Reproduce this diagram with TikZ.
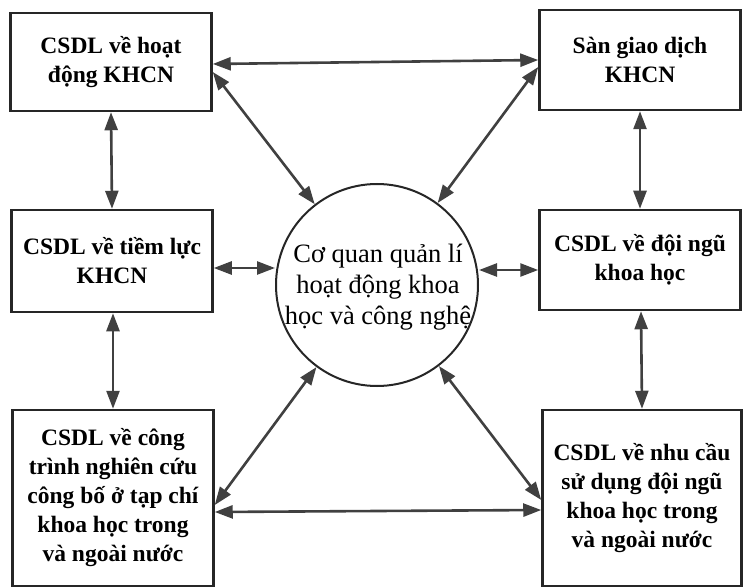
\documentclass[tikz,border=0pt]{standalone}
\usepackage{fontspec}
\setmainfont{Liberation Serif}
\usetikzlibrary{arrows.meta,shapes.geometric}
\begin{document}
\begin{tikzpicture}[x=1pt,y=-1pt,
 box/.style={draw=black!85, line width=2.5pt, align=center, font=\bfseries\fontsize{23.5}{29}\selectfont, inner sep=0pt, minimum width=201pt},
 conn/.style={draw=black!75, line width=2.6pt, {Triangle[length=18pt,width=13pt]}-{Triangle[length=18pt,width=13pt]}}]
\useasboundingbox (0,0) rectangle (747,588);
\node[box, minimum height=98pt] (tl) at (111,62) {CSDL về hoạt\\động KHCN};
\node[box, minimum height=100pt] (tr) at (640,60) {Sàn giao dịch\\KHCN};
\node[box, minimum height=102pt] (ml) at (112,261) {CSDL về tiềm lực\\KHCN};
\node[box, minimum height=100pt] (mr) at (640,260) {CSDL về đội ngũ\\khoa học};
\node[box, minimum height=176pt] (bl) at (113,498) {CSDL về công\\trình nghiên cứu\\công bố ở tạp chí\\khoa học trong\\và ngoài nước};
\node[box, minimum height=176pt, minimum width=199pt] (br) at (642,498) {CSDL về nhu cầu\\sử dụng đội ngũ\\khoa học trong\\và ngoài nước};
\node[draw=black!85, line width=2pt, circle, minimum size=202pt, inner sep=0pt] (c) at (377,285) {};
\node[align=center, font=\fontsize{26.5}{31}\selectfont, inner sep=0pt] (ct) at (378,287) {Cơ quan quản lí\\hoạt động khoa\\học và công nghệ};
\coordinate (mlE) at ([yshift=-7pt]ml.east);
\coordinate (mrW) at ([yshift=-10pt]mr.west);
\coordinate (cW) at (mlE -| c.west);
\coordinate (cE) at (mrW -| c.east);
% top row
\draw[conn] ([yshift=-2pt]tl.east) -- ([yshift=0pt]tr.west);
\draw[conn] ([yshift=-10pt]tl.east) -- (c);
\draw[conn] ([yshift=-7pt]tr.west) -- (c);
% verticals
\draw[conn] (tl.south) -- (ml.north);
\draw[conn] (tr.south) -- (mr.north);
\draw[conn] ([xshift=1pt]ml.south) -- (bl.north);
\draw[conn] ([xshift=1pt]mr.south) -- (br.north);
% middle
\draw[conn] (mlE) -- (cW);
\draw[conn] (mrW) -- (cE);
% bottom
\draw[conn] ([yshift=-14pt]bl.east) -- ([yshift=-12pt]br.west);
\draw[conn] ([yshift=-7pt]bl.east) -- (c);
\draw[conn] ([yshift=-2pt]br.west) -- (c);
\end{tikzpicture}
\end{document}
